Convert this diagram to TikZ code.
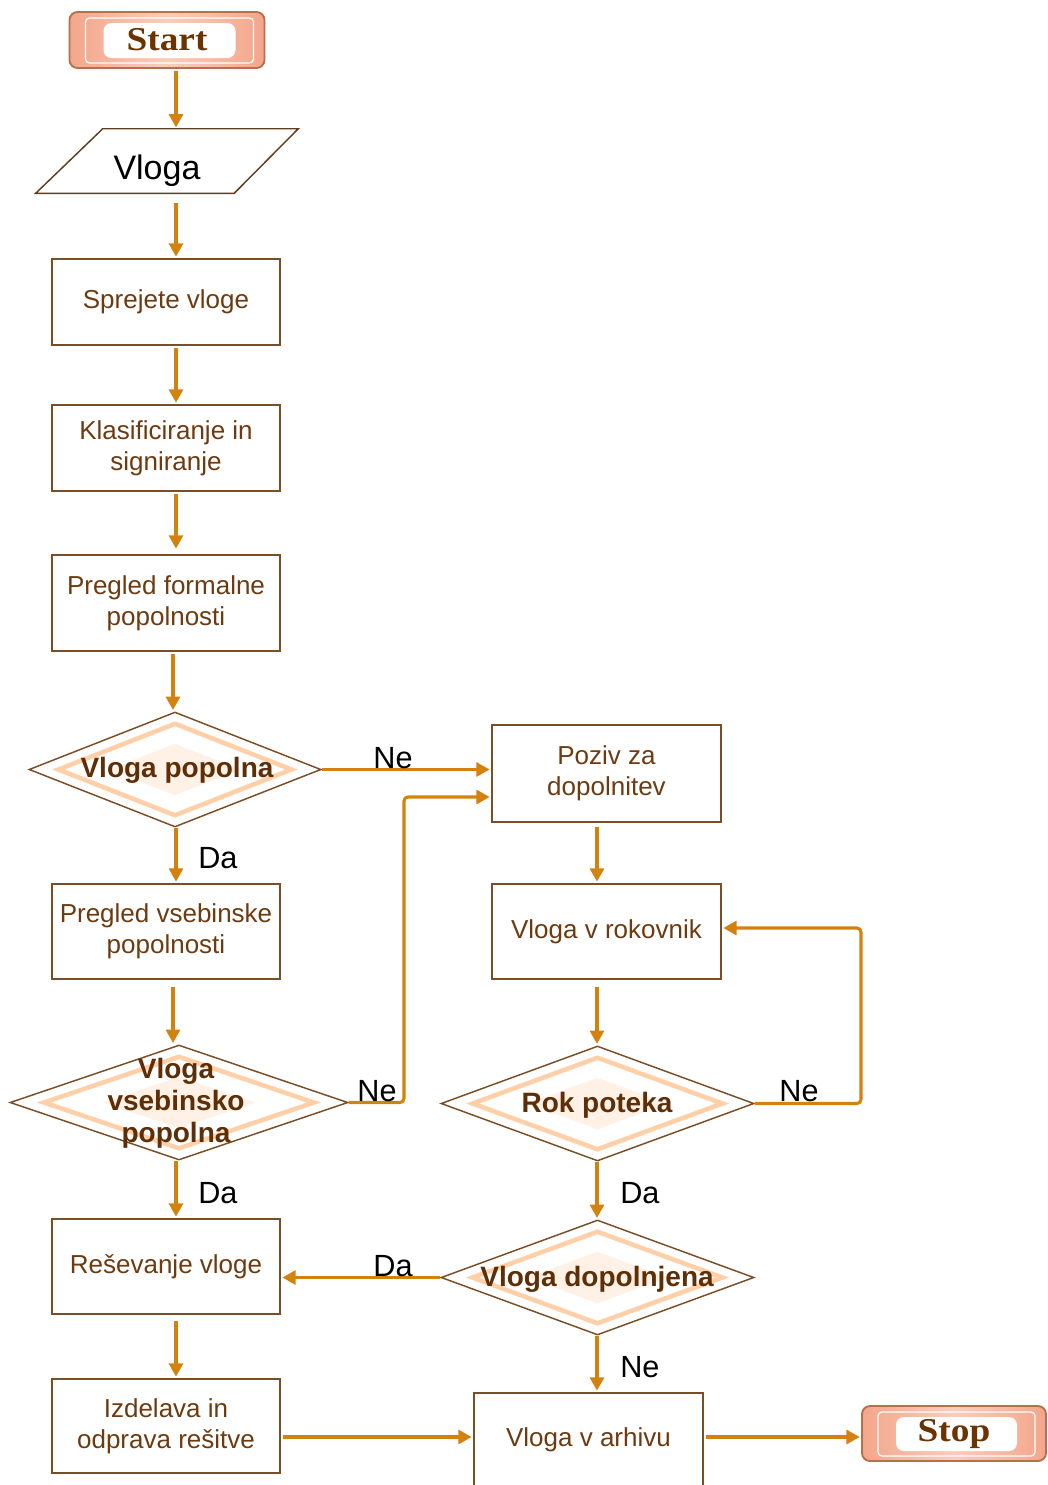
\documentclass[tikz,border=0pt]{standalone}
\usepackage{fontspec}
\setmainfont{Liberation Sans}
\newfontfamily\termfont[FakeStretch=1.12]{Liberation Serif}
\usetikzlibrary{arrows.meta,calc,shapes.geometric}

\definecolor{arrowc}{HTML}{D4820F}
\definecolor{boxline}{HTML}{7A4E26}
\definecolor{boxtext}{HTML}{6E3B10}
\definecolor{dtext}{HTML}{5E2E06}
\definecolor{peach}{HTML}{FFD0A8}
\definecolor{faint}{HTML}{FFF1E6}
\definecolor{salmD}{HTML}{F3A68A}
\definecolor{salmL}{HTML}{F9CDBC}
\definecolor{termline}{HTML}{B5704D}
\definecolor{termtext}{HTML}{6B3300}

% one drawing unit = one pixel
\newcommand\PX{*0.75pt}

\begin{document}
\begin{tikzpicture}[x=0.75pt,y=-0.75pt,
  box/.style={rectangle, draw=boxline, line width=1.5pt, fill=white,
    minimum width=228\PX, inner sep=0pt, align=center, text=boxtext,
    font=\fontsize{19.5}{23.5}\selectfont},
  diam/.style={diamond, draw=boxline, line width=1.1pt, fill=white, inner sep=0pt,
    minimum height=115\PX,
    path picture={
      \coordinate (pc) at (path picture bounding box.center);
      \fill[faint] ($(pc)!.45!(path picture bounding box.north)$)
        -- ($(pc)!.45!(path picture bounding box.east)$)
        -- ($(pc)!.45!(path picture bounding box.south)$)
        -- ($(pc)!.45!(path picture bounding box.west)$) -- cycle;
      \draw[peach, line width=3.4pt]
        ($(pc)!.8!(path picture bounding box.north)$)
        -- ($(pc)!.8!(path picture bounding box.east)$)
        -- ($(pc)!.8!(path picture bounding box.south)$)
        -- ($(pc)!.8!(path picture bounding box.west)$) -- cycle;
    }},
  dlabel/.style={inner sep=0pt, align=center, text=dtext,
    font=\fontsize{21}{24}\selectfont\bfseries},
  term/.style={rectangle, rounded corners=6pt, draw=termline, line width=1.4pt,
    left color=salmD, right color=salmD, middle color=salmL, inner sep=0pt,
    text=termtext, font=\termfont\fontsize{25}{28}\selectfont\bfseries,
    path picture={
      \draw[white, line width=0.9pt, rounded corners=3pt]
        ($(path picture bounding box.north west)+(16,6)$) rectangle
        ($(path picture bounding box.south east)+(-11,-5)$);
      \fill[white]
        ($(path picture bounding box.north west)+(34,11)$) rectangle
        ($(path picture bounding box.south east)+(-29,-10)$);
    }},
  arr/.style={draw=arrowc, line width=2.3pt, -{Triangle[length=10pt,width=10.5pt]},
    shorten <=1.5pt, shorten >=1pt},
  loop/.style={arr, rounded corners=3pt},
  yn/.style={inner sep=0pt, text=black, font=\fontsize{23}{26}\selectfont}
]
\useasboundingbox[fill=white] (0,0) rectangle (1048,1485);

% columns of the vertical connectors
\coordinate (colL) at (176,0);
\coordinate (colM) at (173,0);
\coordinate (colR) at (597,0);

% ---- left column ----
\node[term, minimum width=195\PX, minimum height=56\PX] (start) at (167,40) {Start};

\node[rectangle, minimum width=262\PX, minimum height=64\PX, inner sep=0pt,
  font=\fontsize{25.5}{28}\selectfont] (vloga) at (167,161)
  {\kern-15pt\raisebox{-7.5pt}[\height][\depth]{Vloga}};
\draw[boxline!80!black, line width=1.1pt]
  ($(vloga.north west)+(67,0)$) -- (vloga.north east)
  -- ($(vloga.south east)+(-64,0)$) -- (vloga.south west) -- cycle;

\node[box, minimum height=86\PX] (sprej) at (166,302) {Sprejete vloge};
\node[box, minimum height=86\PX] (klas) at (166,448) {Klasificiranje in\\signiranje};
\node[box, minimum height=96\PX] (formal) at (166,603) {Pregled formalne\\popolnosti};

\node[diam, minimum width=292\PX] (d1) at (175,769.5) {};
\node[dlabel] (d1t) at (177,770) {Vloga popolna};

\node[box, minimum height=95\PX] (vseb) at (166,931.5) {Pregled vsebinske\\popolnosti};

\node[diam, minimum width=338\PX] (d2) at (179,1102.5) {};
\node[dlabel, font=\fontsize{21}{24}\selectfont\bfseries] (d2t) at (176,1103)
  {Vloga\\vsebinsko\\popolna};

\node[box, minimum height=95\PX] (reso) at (166,1266.5) {Reševanje vloge};
\node[box, minimum height=94\PX] (izd) at (166,1426) {Izdelava in\\odprava rešitve};

% ---- right column ----
\node[box, minimum width=229\PX, minimum height=97\PX] (poziv) at (606.5,773.5) {Poziv za\\dopolnitev};
\node[box, minimum width=229\PX, minimum height=95\PX] (rok) at (606.5,931.5) {Vloga v rokovnik};

\node[diam, minimum width=313\PX] (d3) at (597.5,1103.5) {};
\node[dlabel] (d3t) at (597,1105) {Rok poteka};

\node[diam, minimum width=313\PX] (d4) at (597.5,1277.5) {};
\node[dlabel] (d4t) at (597,1279) {Vloga dopolnjena};

\node[box, minimum width=229\PX, minimum height=94\PX] (arhiv) at (588.5,1440) {Vloga v arhivu};

\node[term, minimum width=184\PX, minimum height=55\PX] (stop) at (954,1433.5) {Stop};

% ---- connectors ----
\draw[arr] (start.south -| colL) -- (vloga.north -| colL);
\draw[arr, shorten <=7.5pt] (vloga.south -| colL) -- (sprej.north -| colL);
\draw[arr] (sprej.south -| colL) -- (klas.north -| colL);
\draw[arr, shorten >=4pt] (klas.south -| colL) -- (formal.north -| colL);
\draw[arr] (formal.south -| colM) -- (d1.north -| colM);
\draw[arr, shorten <=0pt] (d1.south -| colL) -- (vseb.north -| colL);
\draw[arr, shorten <=5.5pt] (vseb.south -| colM) -- (d2.north -| colM);
\draw[arr, shorten <=0pt] (d2.south -| colL) -- (reso.north -| colL);
\draw[arr, shorten <=4.5pt] (reso.south -| colL) -- (izd.north -| colL);

\draw[arr, shorten <=3pt] (poziv.south -| colR) -- (rok.north -| colR);
\draw[arr, shorten <=5.5pt] (rok.south -| colR) -- (d3.north -| colR);
\draw[arr, shorten <=0pt] (d3.south -| colR) -- (d4.north -| colR);
\draw[arr, shorten <=0pt] (d4.south -| colR) -- (arhiv.north -| colR);

\draw[arr, shorten <=0pt] (d1.east) -- (d1.east -| poziv.west);
\coordinate (nb) at (404,797);
\draw[loop, shorten <=0pt] (d2.east) -| (nb) -- (nb -| poziv.west);
\coordinate (lp) at (861,928);
\draw[loop, shorten <=0pt] (d3.east) -| (lp) -- (lp -| rok.east);
\draw[arr, shorten <=0pt] (d4.west) -- (d4.west -| reso.east);

\draw[arr] (izd.east |- 0,1437) -- (arhiv.west |- 0,1437);
\draw[arr] (arhiv.east |- 0,1437) -- (stop.west |- 0,1437);

% ---- branch labels ----
\node[yn, anchor=base] (ne1) at (393,768) {Ne};
\node[yn, anchor=west] (da1) at (198,858) {Da};
\node[yn, anchor=base] (ne2) at (377,1101) {Ne};
\node[yn, anchor=west] (da2) at (198,1193) {Da};
\node[yn, anchor=base] (ne3) at (799,1101) {Ne};
\node[yn, anchor=west] (da3) at (620,1193) {Da};
\node[yn, anchor=base] (da4) at (393,1276) {Da};
\node[yn, anchor=west] (ne4) at (620,1367) {Ne};
\end{tikzpicture}
\end{document}
